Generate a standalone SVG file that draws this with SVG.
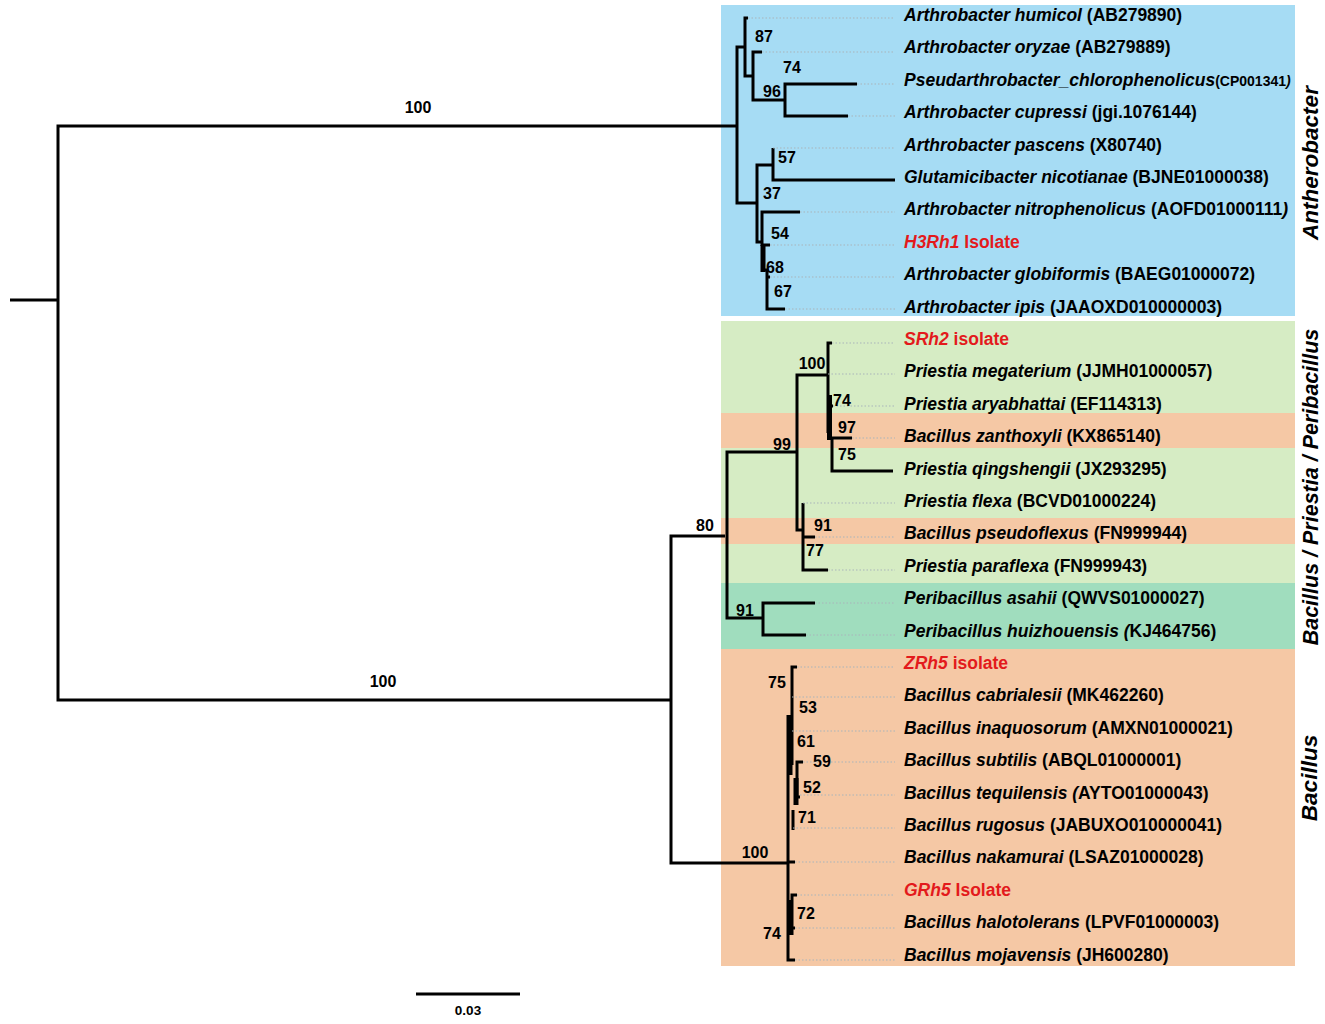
<svg xmlns="http://www.w3.org/2000/svg" width="1325" height="1024" viewBox="0 0 1325 1024">
<style>
.br{fill:none;stroke:#000;stroke-width:3;stroke-linejoin:miter}
.tk{fill:none;stroke:#000;stroke-width:5}
.ld{fill:none;stroke:#a9b4ba;stroke-width:1;stroke-dasharray:1.5 2}
.bs{font-family:"Liberation Sans",Arial,sans-serif;font-weight:bold;font-size:16px;text-anchor:middle;fill:#000}
.lab{font-family:"Liberation Sans",Arial,sans-serif;font-weight:bold;font-style:italic;font-size:17.5px;fill:#000}
.acc{font-style:normal}
.sm{font-size:14px}
.red{fill:#e31a1c}
.clade{font-family:"Liberation Sans",Arial,sans-serif;font-weight:bold;font-style:italic;font-size:22.5px;text-anchor:middle;fill:#000}
</style>
<rect width="1325" height="1024" fill="#fff"/>
<g id="backgrounds">
<rect x="721" y="5" width="574" height="311" fill="#a6dcf4"/>
<rect x="721" y="321" width="574" height="328" fill="#d6ecc4"/>
<rect x="721" y="413" width="574" height="35" fill="#f5c8a5"/>
<rect x="721" y="518" width="574" height="26" fill="#f5c8a5"/>
<rect x="721" y="583" width="574" height="66" fill="#a0ddbe"/>
<rect x="721" y="649" width="574" height="317" fill="#f5c8a5"/>
</g>
<g id="connectors">
<path class="br" d="M10 300H58"/>
<path class="br" d="M737 126H58V700H671"/>
<path class="br" d="M745 47H737V203H757"/>
<path class="br" d="M748 18H745V76H753"/>
<path class="br" d="M762 52H753V100H785"/>
<path class="br" d="M857 84H785V116H848"/>
<path class="br" d="M773 165H757V242H762"/>
<path class="br" d="M773 148V180H895"/>
<path class="br" d="M800 212H762V246"/>
<path class="tk" d="M763 245V272"/>
<path class="br" d="M763 245H770"/>
<path class="br" d="M765 270H767V309H785"/>
<path class="br" d="M767 277H770"/>
<path class="br" d="M725 536H671V863H788"/>
<path class="br" d="M797 452H727V618H763"/>
<path class="br" d="M828 375H797V530H803"/>
<path class="br" d="M832 343H828V433"/>
<path class="tk" d="M829.5 395V440"/>
<path class="br" d="M828 406H833"/>
<path class="br" d="M852 438H832V471H893"/>
<path class="br" d="M803 503V570H828"/>
<path class="br" d="M803 537H815"/>
<path class="br" d="M815 603H763V635H806"/>
<path class="br" d="M788 715V960H795"/>
<path class="br" d="M788 862H795"/>
<path class="br" d="M797 667H792V765"/>
<path class="tk" d="M790 715V775"/>
<path class="br" d="M803 762H797V797H800"/>
<path class="tk" d="M796 778V805"/>
<path class="br" d="M793 810V830"/>
<path class="br" d="M797 895H792V935"/>
<path class="tk" d="M790 900V935"/>
<path class="br" d="M792 928H795"/>
<path class="ld" d="M748 18H895M762 52H895M857 84H895M848 116H895M773 148H895M800 212H895M770 245H895M770 277H895M785 309H895M832 343H895M828 374H895M833 406H895M852 438H895M803 503H895M815 537H895M828 570H895M815 603H895M806 635H895M797 667H895M792 697H895M792 731H895M803 762H895M800 795H895M793 828H895M795 862H895M797 895H895M795 928H895M795 960H895"/>
</g>
<g id="scalebar">
<path d="M416 994H520" stroke="#000" stroke-width="3"/>
<text class="bs" x="468" y="1015" style="font-size:13.5px">0.03</text>
</g>
<g id="bootstrap">
<text class="bs" x="418" y="113">100</text>
<text class="bs" x="383" y="687">100</text>
<text class="bs" x="764" y="42">87</text>
<text class="bs" x="792" y="73">74</text>
<text class="bs" x="772" y="97">96</text>
<text class="bs" x="787" y="163">57</text>
<text class="bs" x="772" y="199">37</text>
<text class="bs" x="780" y="239">54</text>
<text class="bs" x="775" y="273">68</text>
<text class="bs" x="783" y="297">67</text>
<text class="bs" x="812" y="369">100</text>
<text class="bs" x="842" y="406">74</text>
<text class="bs" x="847" y="433">97</text>
<text class="bs" x="782" y="450">99</text>
<text class="bs" x="847" y="460">75</text>
<text class="bs" x="705" y="531">80</text>
<text class="bs" x="823" y="531">91</text>
<text class="bs" x="815" y="556">77</text>
<text class="bs" x="745" y="616">91</text>
<text class="bs" x="777" y="688">75</text>
<text class="bs" x="808" y="713">53</text>
<text class="bs" x="806" y="747">61</text>
<text class="bs" x="822" y="767">59</text>
<text class="bs" x="812" y="793">52</text>
<text class="bs" x="807" y="823">71</text>
<text class="bs" x="755" y="858">100</text>
<text class="bs" x="806" y="919">72</text>
<text class="bs" x="772" y="939">74</text>
</g>
<g id="leaf01"><text class="lab" x="904" y="21">Arthrobacter humicol <tspan class="acc">(AB279890)</tspan></text></g>
<g id="leaf02"><text class="lab" x="904" y="53.4">Arthrobacter oryzae <tspan class="acc">(AB279889)</tspan></text></g>
<g id="leaf03"><text class="lab" x="904" y="85.8">Pseudarthrobacter_chlorophenolicus<tspan class="acc sm">(CP001341</tspan><tspan class="sm">)</tspan></text></g>
<g id="leaf04"><text class="lab" x="904" y="118.2">Arthrobacter cupressi <tspan class="acc">(jgi.1076144)</tspan></text></g>
<g id="leaf05"><text class="lab" x="904" y="150.6">Arthrobacter pascens <tspan class="acc">(X80740)</tspan></text></g>
<g id="leaf06"><text class="lab" x="904" y="183">Glutamicibacter nicotianae <tspan class="acc">(BJNE01000038)</tspan></text></g>
<g id="leaf07"><text class="lab" x="904" y="215.4">Arthrobacter nitrophenolicus <tspan class="acc">(AOFD01000111</tspan>)</text></g>
<g id="leaf08"><text class="lab red" x="904" y="247.8">H3Rh1 <tspan class="acc">Isolate</tspan></text></g>
<g id="leaf09"><text class="lab" x="904" y="280.2">Arthrobacter globiformis <tspan class="acc">(BAEG01000072)</tspan></text></g>
<g id="leaf10"><text class="lab" x="904" y="312.6">Arthrobacter ipis <tspan class="acc">(JAAOXD010000003)</tspan></text></g>
<g id="leaf11"><text class="lab red" x="904" y="345">SRh2 <tspan class="acc">isolate</tspan></text></g>
<g id="leaf12"><text class="lab" x="904" y="377.4">Priestia megaterium <tspan class="acc">(JJMH01000057)</tspan></text></g>
<g id="leaf13"><text class="lab" x="904" y="409.8">Priestia aryabhattai <tspan class="acc">(EF114313)</tspan></text></g>
<g id="leaf14"><text class="lab" x="904" y="442.2">Bacillus zanthoxyli <tspan class="acc">(KX865140)</tspan></text></g>
<g id="leaf15"><text class="lab" x="904" y="474.6">Priestia qingshengii <tspan class="acc">(JX293295)</tspan></text></g>
<g id="leaf16"><text class="lab" x="904" y="507">Priestia flexa <tspan class="acc">(BCVD01000224)</tspan></text></g>
<g id="leaf17"><text class="lab" x="904" y="539.4">Bacillus pseudoflexus <tspan class="acc">(FN999944)</tspan></text></g>
<g id="leaf18"><text class="lab" x="904" y="571.8">Priestia paraflexa <tspan class="acc">(FN999943)</tspan></text></g>
<g id="leaf19"><text class="lab" x="904" y="604.2">Peribacillus asahii <tspan class="acc">(QWVS01000027)</tspan></text></g>
<g id="leaf20"><text class="lab" x="904" y="636.6">Peribacillus huizhouensis (<tspan class="acc">KJ464756)</tspan></text></g>
<g id="leaf21"><text class="lab red" x="904" y="669">ZRh5 <tspan class="acc">isolate</tspan></text></g>
<g id="leaf22"><text class="lab" x="904" y="701.4">Bacillus cabrialesii <tspan class="acc">(MK462260)</tspan></text></g>
<g id="leaf23"><text class="lab" x="904" y="733.8">Bacillus inaquosorum <tspan class="acc">(AMXN01000021)</tspan></text></g>
<g id="leaf24"><text class="lab" x="904" y="766.2">Bacillus subtilis <tspan class="acc">(ABQL01000001)</tspan></text></g>
<g id="leaf25"><text class="lab" x="904" y="798.6">Bacillus tequilensis (<tspan class="acc">AYTO01000043)</tspan></text></g>
<g id="leaf26"><text class="lab" x="904" y="831">Bacillus rugosus <tspan class="acc">(JABUXO010000041)</tspan></text></g>
<g id="leaf27"><text class="lab" x="904" y="863.4">Bacillus nakamurai <tspan class="acc">(LSAZ01000028)</tspan></text></g>
<g id="leaf28"><text class="lab red" x="904" y="895.8">GRh5 <tspan class="acc">Isolate</tspan></text></g>
<g id="leaf29"><text class="lab" x="904" y="928.2">Bacillus halotolerans <tspan class="acc">(LPVF01000003)</tspan></text></g>
<g id="leaf30"><text class="lab" x="904" y="960.6">Bacillus mojavensis <tspan class="acc">(JH600280)</tspan></text></g>
<g id="clade-labels">
<text class="clade" transform="translate(1318 163) rotate(-90)">Antherobacter</text>
<text class="clade" transform="translate(1318 487) rotate(-90)" style="font-size:21.5px">Bacillus / Priestia / Peribacillus</text>
<text class="clade" transform="translate(1317 778) rotate(-90)">Bacillus</text>
</g>
</svg>
